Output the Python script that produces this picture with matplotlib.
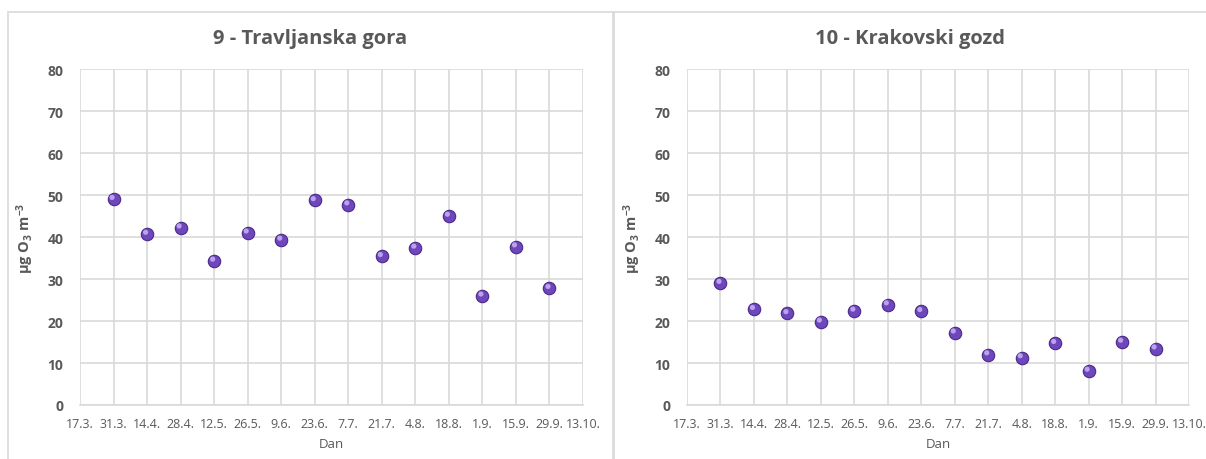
import numpy as np
import matplotlib
matplotlib.use("Agg")
import matplotlib.pyplot as plt
import matplotlib.transforms as mtransforms
from matplotlib.patches import Rectangle

plt.rcParams['font.family'] = ['Open Sans', 'DejaVu Sans']
plt.rcParams['mathtext.default'] = 'regular'

# tick dates (days after 17.3.) and their labels
tick_labels = ["17.3.", "31.3.", "14.4.", "28.4.", "12.5.", "26.5.", "9.6.", "23.6.",
               "7.7.", "21.7.", "4.8.", "18.8.", "1.9.", "15.9.", "29.9.", "13.10."]
tick_days = [0, 14, 28, 42, 56, 70, 84, 98, 112, 126, 140, 154, 168, 182, 196, 210]

# sampling dates: 31.3. ... 29.9.
sample_days = [14, 28, 42, 56, 70, 84, 98, 112, 126, 140, 154, 168, 182, 196]
travljanska = [49.0, 40.7, 42.2, 34.3, 41.0, 39.3, 48.7, 47.7, 35.4, 37.4, 45.0, 26.0, 37.7, 27.8]
krakovski = [29.0, 22.8, 21.8, 19.8, 22.4, 23.9, 22.3, 17.2, 12.0, 11.3, 14.7, 8.1, 15.0, 13.4]

titles = ["9 - Travljanska gora", "10 - Krakovski gozd"]
series = [travljanska, krakovski]

W, H = 1206, 460
fig = plt.figure(figsize=(W / 100, H / 100), dpi=100)

gray = "#595959"
grid_col = "#d9d9d9"

# chart borders
fig.patches.append(Rectangle((8 / W, -0.01), (613 - 8) / W, 1 - 13 / H + 0.01,
                             transform=fig.transFigure, fill=False,
                             edgecolor=grid_col, lw=1.2))
fig.patches.append(Rectangle((614 / W, -0.01), (1210 - 614) / W, 1 - 13 / H + 0.01,
                             transform=fig.transFigure, fill=False,
                             edgecolor=grid_col, lw=1.2))

axes_left = [80, 687]
axes_right = [583, 1189]
title_x = [310, 910]

for i in range(2):
    ax = fig.add_axes([axes_left[i] / W, 1 - 406 / H,
                       (axes_right[i] - axes_left[i]) / W, (406 - 70) / H])
    x = np.array(sample_days)
    y = np.array(series[i])
    ax.scatter(x, y, s=80, color="#6f47bd", edgecolor="#4a2a86", linewidth=0.8, zorder=3)
    off = mtransforms.ScaledTranslation(-1.5 / 100, 1.8 / 100, fig.dpi_scale_trans)
    ax.scatter(x, y, s=14, color="#b9a3ee", edgecolor="none", zorder=4,
               transform=ax.transData + off)

    ax.set_xlim(0, 210)
    ax.set_ylim(0, 80)
    ax.set_xticks(tick_days)
    ax.set_xticklabels(tick_labels, fontsize=9, color=gray)
    ax.set_yticks(range(0, 81, 10))
    ax.set_yticklabels([str(v) for v in range(0, 81, 10)], fontsize=10,
                       fontweight="bold", color=gray)
    ax.tick_params(axis="both", length=0)
    ax.tick_params(axis="x", pad=9)
    ax.tick_params(axis="y", pad=12)
    ax.grid(True, color=grid_col, lw=1.2)
    ax.set_axisbelow(True)
    for s in ["top", "right", "left"]:
        ax.spines[s].set_visible(False)
    ax.spines["bottom"].set_color(grid_col)
    ax.spines["bottom"].set_linewidth(1.2)
    ax.set_xlabel("Dan", fontsize=9.5, color=gray, labelpad=5)
    ax.set_ylabel("µg O$_3$ m$^{-3}$", fontsize=10.5, fontweight="bold", color=gray,
                  labelpad=8)
    fig.text(title_x[i] / W, 1 - 39 / H, titles[i], ha="center", va="center",
             fontsize=14.5, fontweight="bold", color=gray)

fig.savefig("out.png", dpi=100)
